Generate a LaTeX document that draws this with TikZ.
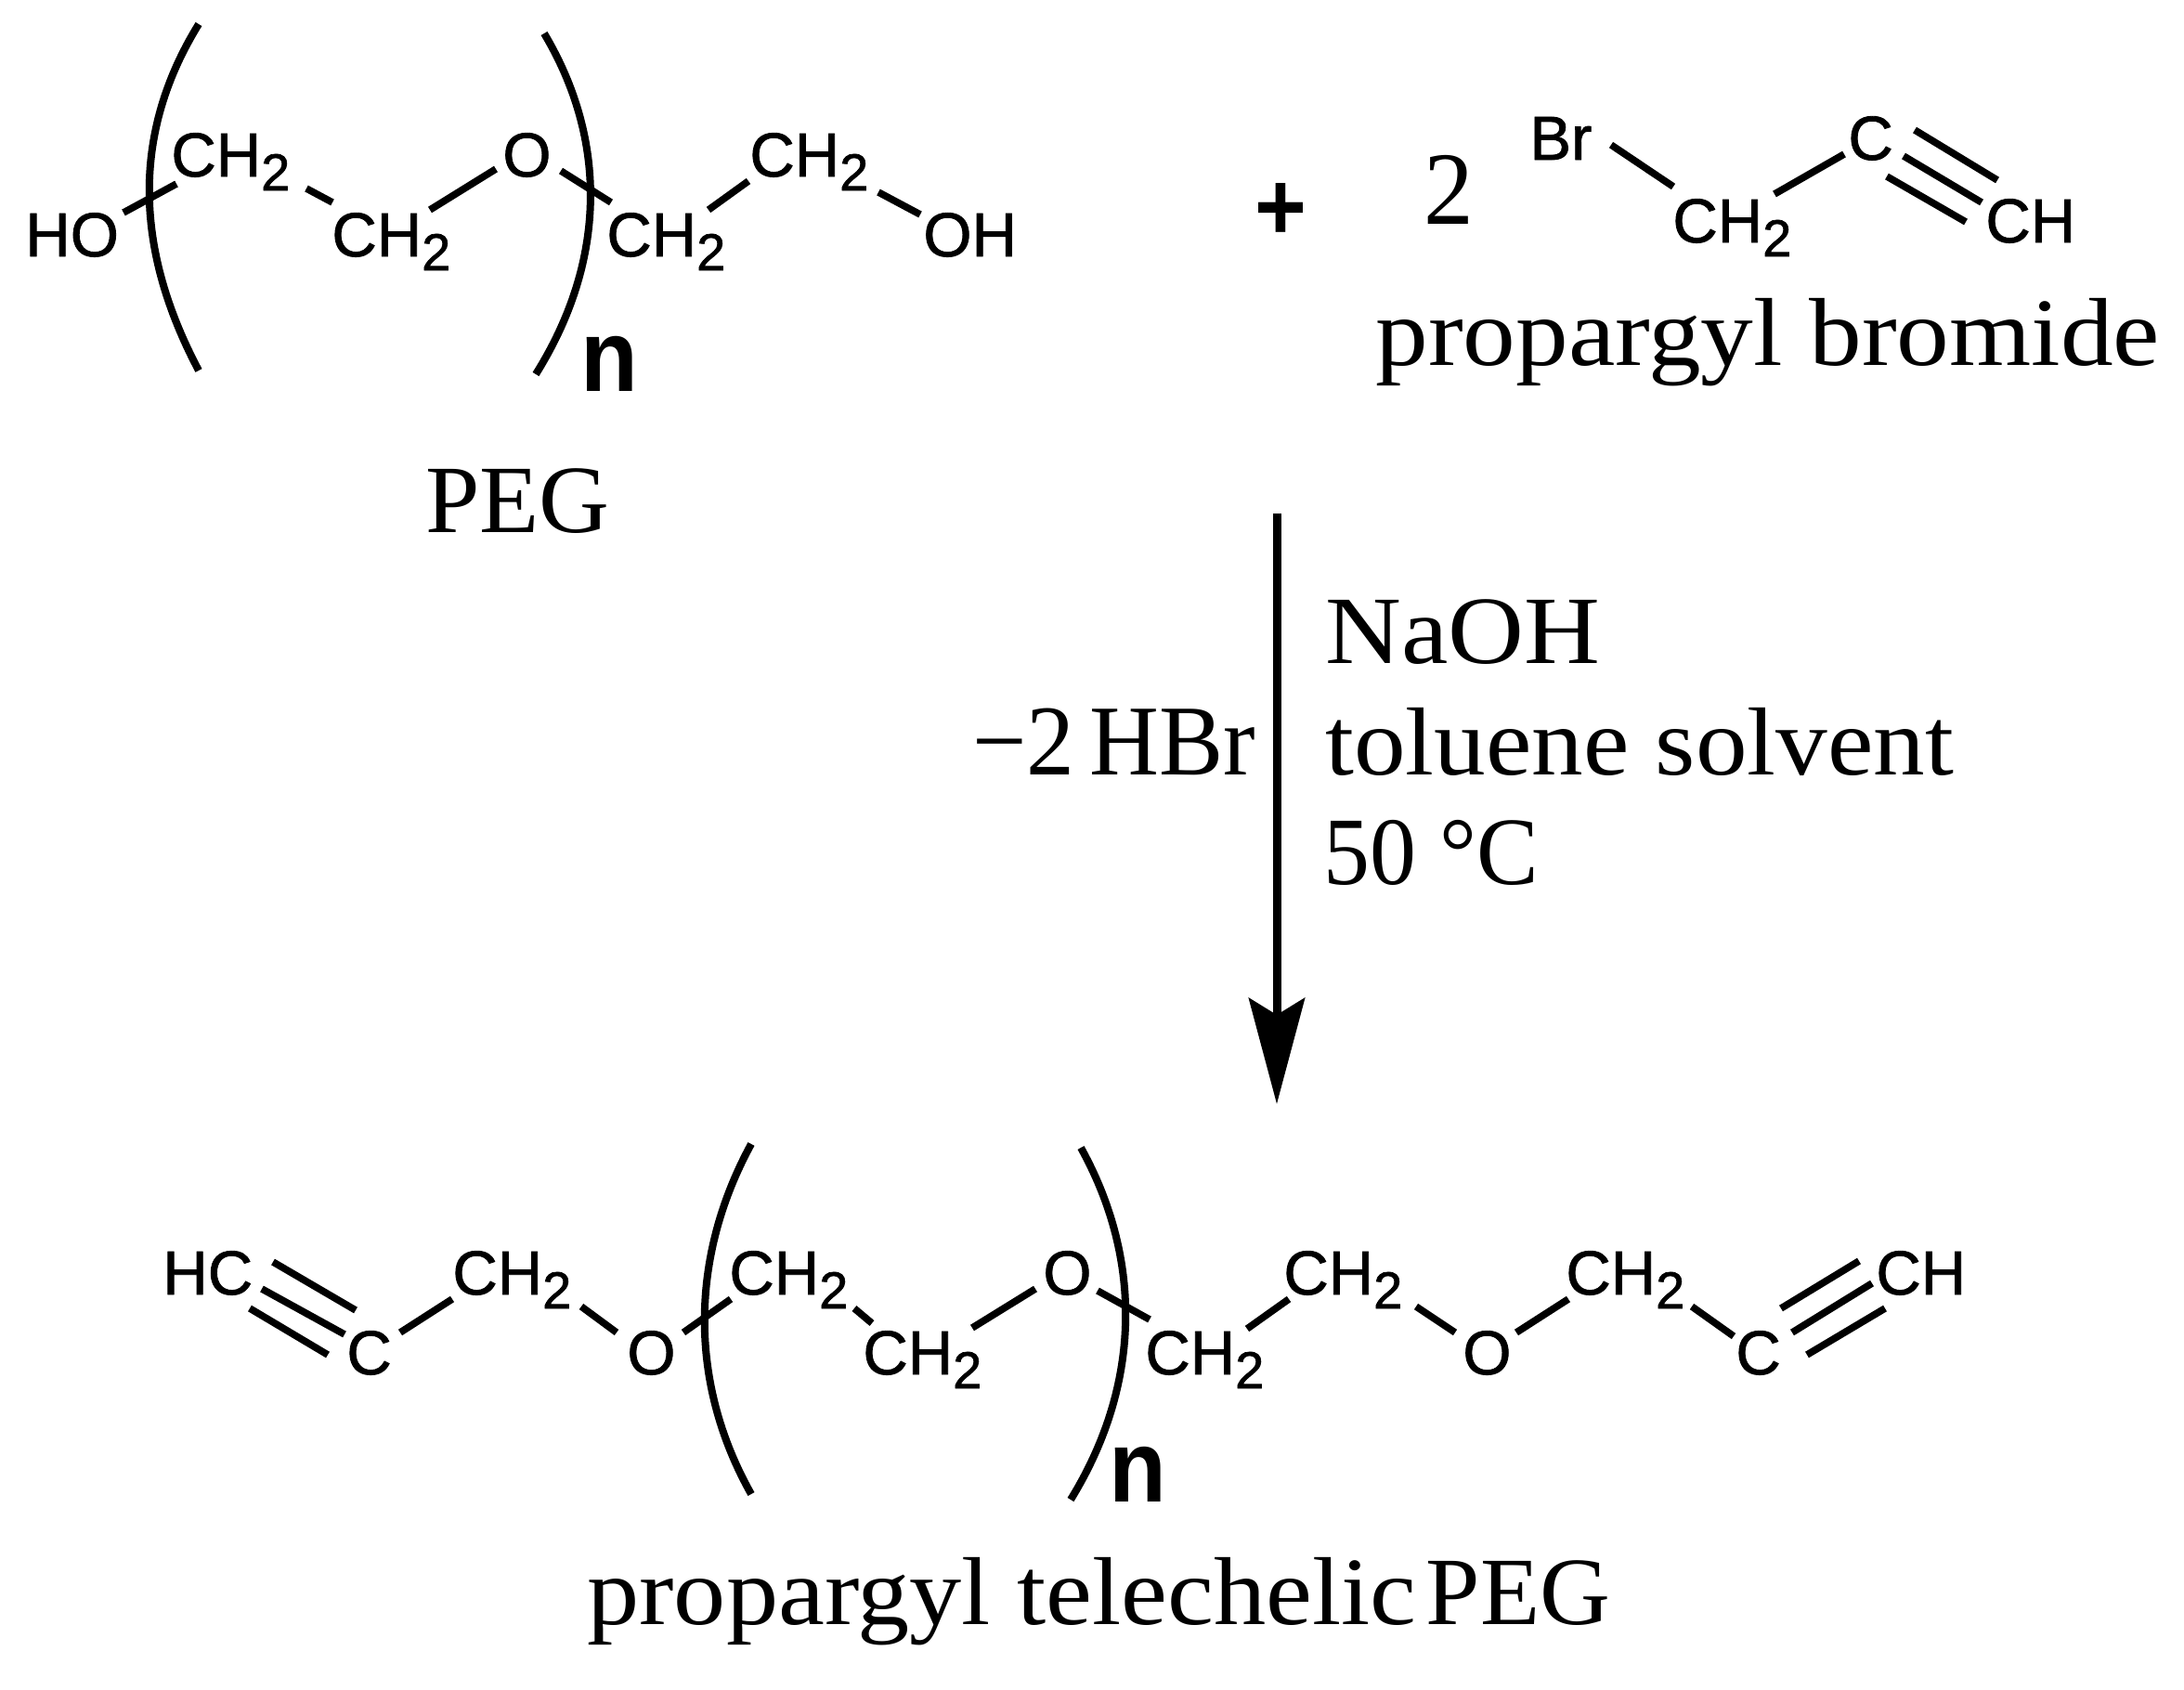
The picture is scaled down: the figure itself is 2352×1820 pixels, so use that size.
\documentclass[tikz,border=0pt]{standalone}
\usepackage{fontspec}
\usetikzlibrary{arrows.meta}
\newfontfamily\chemf[FakeBold=1.2]{Liberation Sans}
\newfontfamily\repf[FakeStretch=0.92]{Liberation Sans}
\newfontfamily\serW[FakeStretch=1.07]{Liberation Serif}
\newfontfamily\serX[FakeStretch=1.09]{Liberation Serif}
\newfontfamily\serT[FakeStretch=1.08]{Liberation Serif}
\newfontfamily\serC[FakeStretch=1.01]{Liberation Serif}
\newfontfamily\serN[FakeStretch=0.96]{Liberation Serif}
\newcommand\lowtwo{\raisebox{-7.5pt}{\fontsize{28pt}{28pt}\selectfont 2}}
\newcommand\CHtwo{CH\lowtwo}
\newcommand\bnd[6]{\draw[bond] ([shift={(#2,#3)}]#1.base west) -- ([shift={(#5,#6)}]#4.base west);}
\tikzset{
  atom/.style={inner sep=0pt,anchor=base west,font=\chemf\fontsize{33.5pt}{33.5pt}\selectfont},
  wlab/.style={inner sep=0pt,anchor=base west,font=\serW\fontsize{52pt}{52pt}\selectfont},
  xlab/.style={inner sep=0pt,anchor=base west,font=\serX\fontsize{52pt}{52pt}\selectfont},
  clab/.style={inner sep=0pt,anchor=base west,font=\serC\fontsize{52pt}{52pt}\selectfont},
  nlab/.style={inner sep=0pt,anchor=base west,font=\serN\fontsize{52pt}{52pt}\selectfont},
  rep/.style={inner sep=0pt,anchor=base west,font=\repf\bfseries\fontsize{55pt}{55pt}\selectfont},
  bond/.style={line width=3.8pt,black},
  brack/.style={line width=4pt,black},
  react/.style={line width=4.5pt,black,-{Stealth[length=57pt,width=30pt,inset=9pt]}}
}
\begin{document}
\begin{tikzpicture}[x=0.5pt,y=-0.5pt]
\useasboundingbox[fill=white] (0,0) rectangle (2352,1820);
% PEG
\node[atom] (ho) at (27,276) {HO};
\node[atom] (ch1) at (184,190) {\CHtwo};
\node[atom] (ch2) at (357,276) {\CHtwo};
\node[atom] (ox1) at (541,190) {O};
\node[atom] (ch3) at (653,276) {\CHtwo};
\node[atom] (ch4) at (807,190) {\CHtwo};
\node[atom] (oh) at (994,276) {OH};
\bnd{ho}{106}{-47}{ch1}{6}{8}
\bnd{ch1}{146}{13}{ch2}{1}{-58}
\bnd{ch2}{106}{-50}{ox1}{-7}{-8}
\bnd{ox1}{63}{-6}{ch3}{5}{-58}
\bnd{ch3}{110}{-50}{ch4}{-1}{5}
\bnd{ch4}{139}{17}{oh}{-3}{-45}
\draw[brack] (214,26) .. controls (143,141) and (143,265) .. (214,399);
\draw[brack] (586,36) .. controls (654,150) and (654,280) .. (577,403);
\node[rep] (n1) at (625,421) {n};
\node[clab] (peg) at (458,573) {PEG};
% plus, coefficient, propargyl bromide
\node[inner sep=0pt,font=\repf\bfseries\fontsize{52pt}{52pt}\selectfont] (plus) at (1379,228) {+};
\node[inner sep=0pt,anchor=base west,font=\serN\fontsize{56pt}{56pt}\selectfont] (two) at (1533,241) {2};
\node[atom] (br) at (1647,172) {Br};
\node[atom] (ch5) at (1801,261) {\CHtwo};
\node[atom] (cc1) at (1990,172) {C};
\node[atom] (ch6) at (2138,261) {CH};
\bnd{br}{88}{-16}{ch5}{1}{-60}
\bnd{ch5}{110}{-52}{cc1}{-4}{-6}
\bnd{cc1}{72}{-32}{ch6}{13}{-67}
\bnd{cc1}{60}{-4}{ch6}{-4}{-43}
\bnd{cc1}{42}{18}{ch6}{-21}{-22}
\node[xlab] (pb) at (1481,393) {propargyl bromide};
% reaction arrow
\coordinate (arrtop) at (1375,553);
\coordinate (arrtip) at (1375,1189);
\draw[react] (arrtop) -- (arrtip);
\node[xlab] (naoh) at (1427,714) {NaOH};
\node[wlab] (tol) at (1427,834) {toluene solvent};
\node[nlab] (temp) at (1425,952) {50 °C};
\node[inner sep=0pt,anchor=base west,font=\serN\fontsize{54pt}{54pt}\selectfont] (hbr) at (1047,834) {−2\hspace{.15em}HBr};
% product
\node[atom] (hc) at (175,1394) {HC};
\node[atom] (c2) at (373,1480) {C};
\node[atom] (ch7) at (487,1394) {\CHtwo};
\node[atom] (o2) at (675,1480) {O};
\node[atom] (ch8) at (785,1394) {\CHtwo};
\node[atom] (ch9) at (929,1480) {\CHtwo};
\node[atom] (o3) at (1123,1394) {O};
\node[atom] (ch10) at (1233,1480) {\CHtwo};
\node[atom] (ch11) at (1382,1394) {\CHtwo};
\node[atom] (o4) at (1575,1480) {O};
\node[atom] (ch12) at (1686,1394) {\CHtwo};
\node[atom] (c3) at (1869,1480) {C};
\node[atom] (ch13) at (2020,1394) {CH};
\bnd{hc}{119}{-35}{c2}{10}{-69}
\bnd{hc}{107}{-6}{c2}{-2}{-43}
\bnd{hc}{94}{15}{c2}{-20}{-21}
\bnd{c2}{58}{-45}{ch7}{0}{5}
\bnd{ch7}{139}{13}{o2}{-11}{-45}
\bnd{o2}{61}{-45}{ch8}{2}{5}
\bnd{ch8}{135}{15}{ch9}{10}{-55}
\bnd{ch9}{118}{-50}{o3}{-8}{-6}
\bnd{o3}{59}{-4}{ch10}{5}{-59}
\bnd{ch10}{110}{-49}{ch11}{6}{5}
\bnd{ch11}{143}{13}{o4}{-8}{-45}
\bnd{o4}{58}{-45}{ch12}{3}{5}
\bnd{ch12}{136}{13}{c3}{-2}{-41}
\bnd{c3}{49}{-71}{ch13}{-18}{-36}
\bnd{c3}{61}{-45}{ch13}{-4}{-12}
\bnd{c3}{77}{-21}{ch13}{10}{15}
\draw[brack] (809,1232) .. controls (742,1355) and (742,1490) .. (809,1609);
\draw[brack] (1164,1236) .. controls (1230,1355) and (1230,1490) .. (1153,1615);
\node[rep] (n2) at (1194,1617) {n};
\node[inner sep=0pt,anchor=base west,font=\fontsize{52pt}{52pt}\selectfont] (ptp) at (632,1749) {\serT propargyl telechelic\hspace{.1em}\serC PEG};
\end{tikzpicture}
\end{document}
